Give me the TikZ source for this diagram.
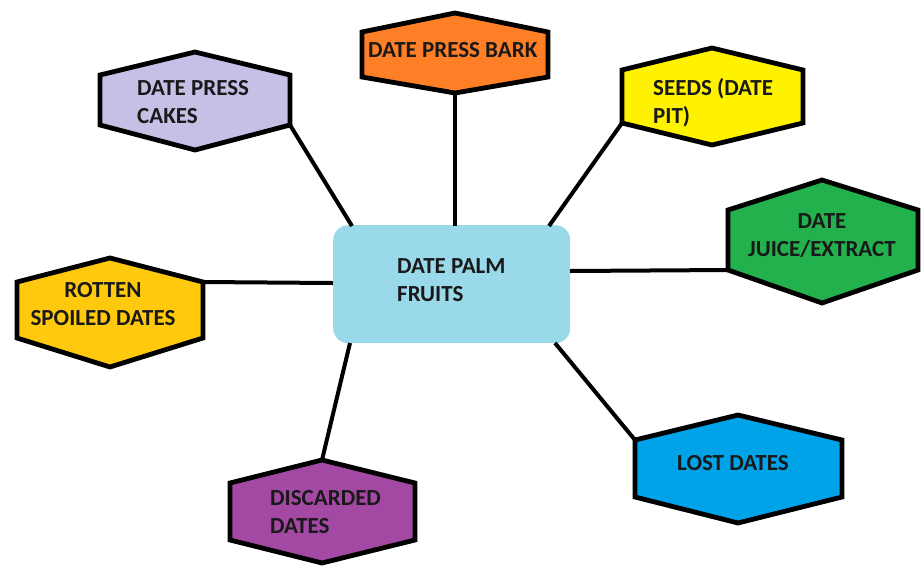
\documentclass[tikz,border=0pt]{standalone}
\usepackage{fontspec}
\setmainfont{Carlito}
\definecolor{cakes}{RGB}{200,191,231}
\definecolor{bark}{RGB}{255,127,39}
\definecolor{seeds}{RGB}{255,242,0}
\definecolor{juice}{RGB}{34,177,76}
\definecolor{rotten}{RGB}{255,201,14}
\definecolor{discard}{RGB}{163,73,164}
\definecolor{lost}{RGB}{0,162,232}
\definecolor{centre}{RGB}{153,217,234}
\definecolor{ink}{RGB}{25,25,25}
\tikzset{
  hexline/.style={draw=black, line width=4.8pt, line join=miter},
  conn/.style={draw=black, line width=4pt},
  lbl/.style={inner sep=0pt, text=ink, font=\fontsize{23}{28.5}\selectfont\bfseries},
}
% #1 name, #2 fill, #3 left, #4 right, #5 centre x, #6 top, #7 upper, #8 lower, #9 bottom
\newcommand\hexshape[9]{%
  \draw[hexline, fill=#2] (#5,#6) -- (#4,#7) -- (#4,#8) -- (#5,#9) -- (#3,#8) -- (#3,#7) -- cycle;
  \coordinate (#1-t) at (#5,#6);
  \coordinate (#1-ne) at (#4,#7);
  \coordinate (#1-se) at (#4,#8);
  \coordinate (#1-b) at (#5,#9);
  \coordinate (#1-sw) at (#3,#8);
  \coordinate (#1-nw) at (#3,#7);
}
\begin{document}
\begin{tikzpicture}[x=1pt,y=-1pt]
\useasboundingbox (0,0) rectangle (922,566);
% centre box
\node[fill=centre, rounded corners=15pt, minimum width=237pt, minimum height=118pt, inner sep=0pt, anchor=north west] (c) at (333,225) {};
\node[lbl, anchor=base west] (ct) at (397,273) {\begin{tabular}[t]{@{}l@{}}DATE PALM\\FRUITS\end{tabular}};
% hexagons
\hexshape{cakes}{cakes}{100}{290}{195}{52}{75}{125}{150}
\hexshape{bark}{bark}{362}{548}{455}{13}{32}{77}{93}
\hexshape{seeds}{seeds}{622}{803}{712}{48}{70}{123}{145}
\hexshape{juice}{juice}{728}{918}{822}{180}{210}{270}{303}
\hexshape{rotten}{rotten}{17}{203}{110}{258}{282}{338}{367}
\hexshape{disc}{discard}{230}{415}{322}{460}{483}{540}{563}
\hexshape{lost}{lost}{635}{842}{738}{415}{440}{497}{523}
% labels
\node[lbl, anchor=base west] (tcakes) at (137,95) {\begin{tabular}[t]{@{}l@{}}DATE PRESS\\CAKES\end{tabular}};
\node[lbl, anchor=base west] (tbark) at (368,57) {DATE PRESS BARK};
\node[lbl, anchor=base west] (tseeds) at (653,95) {\begin{tabular}[t]{@{}l@{}}SEEDS (DATE\\PIT)\end{tabular}};
\node[lbl, anchor=base] (tjuice) at (822,228) {\begin{tabular}[t]{@{}c@{}}DATE\\JUICE/EXTRACT\end{tabular}};
\node[lbl, anchor=base] (trotten) at (103,297) {\begin{tabular}[t]{@{}c@{}}ROTTEN\\SPOILED DATES\end{tabular}};
\node[lbl, anchor=base west] (tdisc) at (270,505) {\begin{tabular}[t]{@{}l@{}}DISCARDED\\DATES\end{tabular}};
\node[lbl, anchor=base west] (tlost) at (677,470) {LOST DATES};
% connector ends on the centre box
\coordinate (c-a) at (352,226);
\coordinate (c-b) at (455,226);
\coordinate (c-c) at (549,226);
\coordinate (c-d) at (570,271);
\coordinate (c-e) at (333,283);
\coordinate (c-f) at (350,343);
\coordinate (c-g) at (555,343);
% connectors
\draw[conn] (cakes-se) -- (c-a);
\draw[conn] (bark-b) -- (c-b);
\draw[conn] (seeds-sw) -- (c-c);
\draw[conn] (juice-sw) -- (c-d);
\draw[conn] (rotten-ne) -- (c-e);
\draw[conn] (disc-t) -- (c-f);
\draw[conn] (lost-nw) -- (c-g);
\end{tikzpicture}
\end{document}
